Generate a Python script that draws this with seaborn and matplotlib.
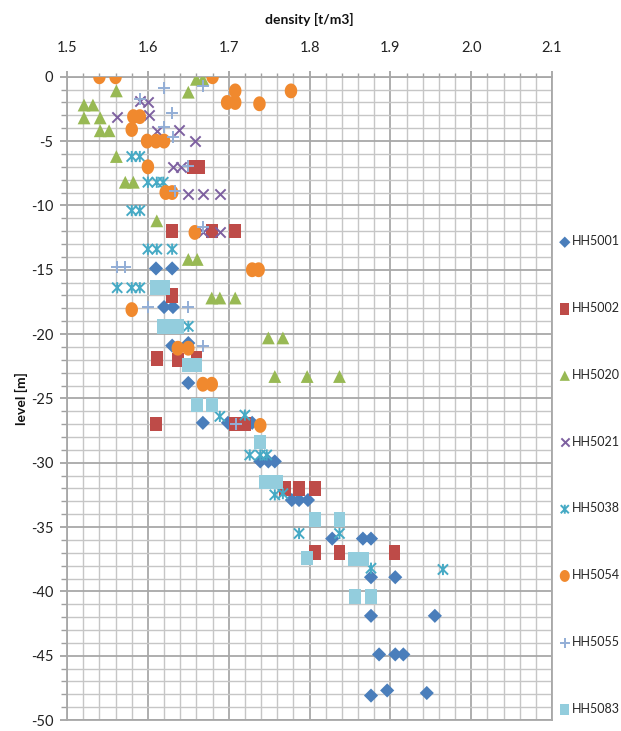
import numpy as np
import pandas as pd
import matplotlib
matplotlib.use("Agg")
import matplotlib.pyplot as plt
from matplotlib.path import Path
from matplotlib.ticker import MultipleLocator, FormatStrFormatter
import seaborn as sns

# ---- density [t/m3] and level [m] per borehole ----
hh5001_density = [1.610, 1.630, 1.620, 1.631, 1.630, 1.650, 1.650, 1.668, 1.699, 1.729,
                  1.739, 1.749, 1.757, 1.778, 1.787, 1.798, 1.828, 1.866, 1.876, 1.876,
                  1.906, 1.876, 1.955, 1.886, 1.906, 1.916, 1.876, 1.896, 1.945]
hh5001_level = [-14.9, -14.9, -17.9, -17.9, -20.9, -20.7, -23.8, -26.9, -26.9, -26.9,
                -29.9, -29.9, -29.9, -32.9, -32.9, -32.9, -35.9, -35.9, -35.9, -38.9,
                -38.9, -41.9, -41.9, -44.9, -44.9, -44.9, -48.1, -47.7, -47.9]

hh5002_density = [1.655, 1.663, 1.630, 1.679, 1.708, 1.630, 1.611, 1.637, 1.660, 1.610,
                  1.708, 1.720, 1.770, 1.787, 1.807, 1.807, 1.837, 1.905]
hh5002_level = [-7.0, -7.0, -12.0, -12.0, -12.0, -17.0, -21.9, -22.0, -21.9, -27.0,
                -27.0, -27.0, -32.0, -32.0, -32.0, -37.0, -37.0, -37.0]

hh5020_density = [1.660, 1.668, 1.650, 1.561, 1.521, 1.532, 1.521, 1.541, 1.541, 1.552,
                  1.561, 1.572, 1.582, 1.611, 1.650, 1.661, 1.679, 1.689, 1.708, 1.749,
                  1.767, 1.757, 1.797, 1.837]
hh5020_level = [-0.2, -0.2, -1.2, -1.1, -2.2, -2.2, -3.2, -3.2, -4.2, -4.2,
                -6.2, -8.2, -8.2, -11.2, -14.2, -14.2, -17.2, -17.2, -17.2, -20.3,
                -20.3, -23.3, -23.3, -23.3]

hh5021_density = [1.590, 1.600, 1.562, 1.601, 1.611, 1.639, 1.658, 1.631, 1.641, 1.650,
                  1.668, 1.689, 1.668, 1.689]
hh5021_level = [-1.9, -2.0, -3.1, -3.0, -4.2, -4.1, -5.0, -7.0, -7.0, -9.1,
                -9.1, -9.1, -12.1, -12.1]

hh5038_density = [1.580, 1.590, 1.600, 1.611, 1.619, 1.580, 1.590, 1.600, 1.611, 1.630,
                  1.562, 1.580, 1.590, 1.650, 1.689, 1.720, 1.726, 1.739, 1.747, 1.757,
                  1.767, 1.787, 1.837, 1.876, 1.965]
hh5038_level = [-6.2, -6.2, -8.2, -8.2, -8.2, -10.4, -10.4, -13.4, -13.4, -13.4,
                -16.4, -16.4, -16.4, -19.4, -26.4, -26.3, -29.4, -29.4, -29.4, -32.5,
                -32.4, -35.5, -35.5, -38.2, -38.3]

hh5054_density = [1.540, 1.560, 1.680, 1.708, 1.698, 1.708, 1.738, 1.777, 1.582, 1.590,
                  1.580, 1.599, 1.610, 1.620, 1.600, 1.622, 1.630, 1.658, 1.729, 1.737,
                  1.580, 1.637, 1.650, 1.668, 1.679, 1.739]
hh5054_level = [0.0, 0.0, 0.0, -1.1, -2.0, -2.0, -2.1, -1.1, -3.1, -3.1,
                -4.1, -5.0, -5.0, -5.0, -7.0, -9.0, -9.0, -12.1, -15.0, -15.0,
                -18.1, -21.1, -21.1, -23.9, -23.9, -27.1]

hh5055_density = [1.620, 1.668, 1.590, 1.630, 1.620, 1.631, 1.650, 1.634, 1.668, 1.562,
                  1.572, 1.600, 1.650, 1.668, 1.709]
hh5055_level = [-0.9, -0.7, -1.7, -2.8, -3.9, -4.7, -6.9, -8.9, -11.7, -14.8,
                -14.8, -17.9, -17.9, -20.9, -27.0]

hh5083_density = [1.610, 1.620, 1.619, 1.628, 1.637, 1.650, 1.660, 1.661, 1.679, 1.739,
                  1.745, 1.760, 1.807, 1.837, 1.797, 1.855, 1.866, 1.856, 1.876]
hh5083_level = [-16.4, -16.4, -19.4, -19.4, -19.4, -22.4, -22.4, -25.5, -25.5, -28.4,
                -31.5, -31.5, -34.4, -34.4, -37.4, -37.5, -37.5, -40.4, -40.4]

x_ticks = [1.5, 1.6, 1.7, 1.8, 1.9, 2.0, 2.1]
y_ticks = [0, -5, -10, -15, -20, -25, -30, -35, -40, -45, -50]

series = {
    "HH5001": (hh5001_density, hh5001_level),
    "HH5002": (hh5002_density, hh5002_level),
    "HH5020": (hh5020_density, hh5020_level),
    "HH5021": (hh5021_density, hh5021_level),
    "HH5038": (hh5038_density, hh5038_level),
    "HH5054": (hh5054_density, hh5054_level),
    "HH5055": (hh5055_density, hh5055_level),
    "HH5083": (hh5083_density, hh5083_level),
}

frames = [pd.DataFrame({"density": d, "level": l, "borehole": name})
          for name, (d, l) in series.items()]
df = pd.concat(frames, ignore_index=True)

# ---- marker shapes ----
star = Path([(-1, -1), (1, 1), (-1, 1), (1, -1), (0, -1.1), (0, 1.1)],
            [Path.MOVETO, Path.LINETO, Path.MOVETO, Path.LINETO, Path.MOVETO, Path.LINETO])
tall_square = [(-0.4, -0.5), (0.4, -0.5), (0.4, 0.5), (-0.4, 0.5), (-0.4, -0.5)]
t = np.linspace(0, 2 * np.pi, 41)
tall_circle = list(zip(0.42 * np.cos(t), 0.5 * np.sin(t)))

style = {
    "HH5001": dict(marker="D", color="#4A7EBB", s=52, filled=True),
    "HH5002": dict(marker=tall_square, color="#BE4B48", s=110, filled=True),
    "HH5020": dict(marker="^", color="#98B954", s=85, filled=True),
    "HH5021": dict(marker="x", color="#7D60A0", s=55, filled=False),
    "HH5038": dict(marker=star, color="#46AAC5", s=65, filled=False),
    "HH5054": dict(marker=tall_circle, color="#F0892E", s=115, filled=True),
    "HH5055": dict(marker="+", color="#93AED6", s=70, filled=False),
    "HH5083": dict(marker=tall_square, color="#93CDDD", s=110, filled=True),
}

sns.set_theme(style="white")
plt.rcParams["font.family"] = ["Lato", "DejaVu Sans"]
plt.rcParams["axes.unicode_minus"] = False

fig = plt.figure(figsize=(6.21, 7.31), dpi=100)
ax = fig.add_axes([0.108, 0.015, 0.781, 0.880])

for name in series:
    st = style[name]
    sub = df[df["borehole"] == name]
    if st["filled"]:
        sns.scatterplot(data=sub, x="density", y="level", marker=st["marker"],
                        color=st["color"], s=st["s"], edgecolor="none",
                        label=name, ax=ax, zorder=3)
    else:
        sns.scatterplot(data=sub, x="density", y="level", marker=st["marker"],
                        color=st["color"], s=st["s"], linewidth=1.4,
                        facecolor="none" if name == "HH5038" else st["color"],
                        edgecolor=st["color"],
                        label=name, ax=ax, zorder=3)

ax.set_xlim(1.5, 2.1)
ax.set_ylim(-50, 0)
ax.xaxis.tick_top()
ax.xaxis.set_label_position("top")
ax.set_xticks(x_ticks)
ax.set_yticks(y_ticks)
ax.xaxis.set_major_formatter(FormatStrFormatter("%.1f"))
ax.xaxis.set_minor_locator(MultipleLocator(0.02))
ax.yaxis.set_minor_locator(MultipleLocator(1))

ax.grid(which="major", color="#a8a8a8", linewidth=1.3, zorder=0)
ax.grid(which="minor", color="#c6c6c6", linewidth=1.0, zorder=0)
ax.set_axisbelow(True)
for side, sp in ax.spines.items():
    sp.set_color("#a8a8a8")
    sp.set_linewidth(1.3)

ax.tick_params(axis="both", which="both", direction="out", color="#a0a0a0",
               labelsize=10.5, labelcolor="#222222")
ax.tick_params(axis="x", which="major", length=4, pad=12)
ax.tick_params(axis="x", which="minor", length=3, top=True)
ax.tick_params(axis="y", which="major", length=5, pad=5, left=True)
ax.tick_params(axis="y", which="minor", length=4, left=True)

ax.set_xlabel("density [t/m3]", fontsize=10, fontweight="bold", labelpad=12, color="#111111")
ax.set_ylabel("level [m]", fontsize=10, fontweight="bold", labelpad=2, color="#111111")

handles, labels = ax.get_legend_handles_labels()
ax.legend(handles, labels, loc="upper left", bbox_to_anchor=(1.003, 0.761),
          frameon=False, fontsize=9, labelspacing=4.38, handletextpad=0.1,
          handlelength=1.0, borderaxespad=0, markerscale=0.8)

fig.savefig("out.png", dpi=100)
